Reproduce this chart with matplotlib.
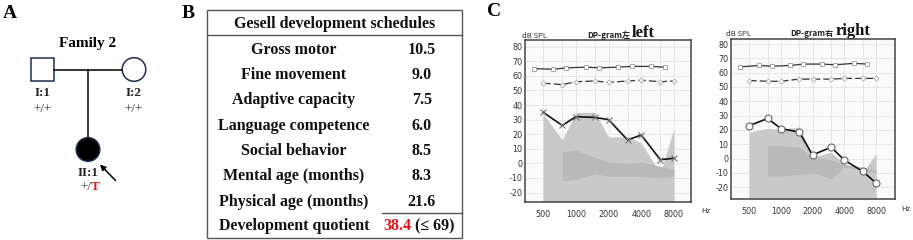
import numpy as np
import matplotlib
matplotlib.use("Agg")
import matplotlib.pyplot as plt
from matplotlib.patches import Rectangle, Circle, FancyArrowPatch
from matplotlib.ticker import FixedLocator, NullFormatter

# ---------------- data ----------------
pedigree_ids = ["I:1", "I:2", "II:1"]
pedigree_gt = ["+/+", "+/+", "+/"]
family_title = "Family 2"

table_title = "Gesell development schedules"
table_labels = ["Gross motor", "Fine movement", "Adaptive capacity",
                "Language competence", "Social behavior",
                "Mental age (months)", "Physical age (months)",
                "Development quotient"]
table_values = ["10.5", "9.0", "7.5", "6.0", "8.5", "8.3", "21.6"]
dq_value = "38.4"
dq_ref = " (\u2264 69)"

freqs = [500, 750, 1000, 1500, 2000, 3000, 4000, 6000, 8000]
xticks = [500, 1000, 2000, 4000, 8000]
yticks = list(range(-20, 81, 10))

left_dp = [35, 26, 32, 31.5, 30, 16, 19.5, 2.5, 3.5]
left_l1 = [65, 64.5, 65.5, 66, 65.5, 66, 66.5, 66.5, 66]
left_l2 = [55, 54, 56, 56.5, 55.5, 56.5, 57, 56, 56.5]
left_noise_hi = [34, 16, 35, 35, 18, 18.5, 14, -7, 24]
left_band_hi = [None, 8, 9, 4, 1, 0, 1, -2, -4]
left_band_lo = [None, -12, -11, -7, -9, -9, -9, -10, -9]

right_dp = [23, 28, 21, 18.5, 2.5, 8, -1, -9, -17]
right_l1 = [64, 65, 64.5, 65, 66, 66, 65.5, 66.5, 66]
right_l2 = [54.5, 54, 54, 55.5, 55.5, 55.5, 56, 56, 56]
right_noise_hi = [18.5, 21, 20.5, 22, 1, 4.5, -3.5, -9.5, 3.5]
right_band_hi = [None, 9, 9, 8, 1, -1, -4, -6, -8]
right_band_lo = [None, -12, -12, -11, -10, -14, -6, -8, -10]

# ---------------- figure ----------------
W, H = 913, 240
fig = plt.figure(figsize=(W / 100, H / 100), dpi=100)
fig.patch.set_facecolor("white")

ov = fig.add_axes([0, 0, 1, 1])
ov.set_xlim(0, W)
ov.set_ylim(H, 0)
ov.axis("off")

SERIF = "Liberation Serif"

# panel letters
for lx, ly, lt in [(3, 14, "A"), (182, 14, "B"), (487, 12, "C")]:
    ov.text(lx, ly, lt, fontsize=14, fontweight="bold", family=SERIF,
            ha="left", va="center")

# ---------------- panel A: pedigree ----------------
ov.text(88, 43, family_title, fontsize=11, fontweight="bold", family=SERIF,
        ha="center", va="center")
ov.plot([54, 122], [69.5, 69.5], color="black", lw=1.1)
ov.plot([88, 88], [69.5, 137.5], color="black", lw=1.1)
ov.add_patch(Rectangle((31, 58), 23, 23, fill=False, ec="#1e2d4d", lw=1.1))
ov.add_patch(Circle((134, 69.5), 11.8, fill=False, ec="#1e2d4d", lw=1.1))
ov.add_patch(Circle((88, 149.5), 11.8, fc="black", ec="#1e2d4d", lw=1.1))

pos = [(42.5, 93.5, 109.5), (134, 93.5, 109.5), (88, 173, 187.5)]
for (px, py1, py2), pid, gt in zip(pos, pedigree_ids, pedigree_gt):
    ov.text(px, py1, pid, fontsize=9.5, fontweight="bold", family=SERIF,
            ha="center", va="center", color="#222222")
    if gt == "+/":
        ov.text(px + 3, py2, gt, fontsize=9.5, family=SERIF,
                ha="right", va="center", color="#333333")
        ov.text(px + 3, py2, "T", fontsize=9.5, family=SERIF, fontweight="bold",
                ha="left", va="center", color="#e8141b")
    else:
        ov.text(px, py2, gt, fontsize=9.5, family=SERIF,
                ha="center", va="center", color="#333333")
ov.add_patch(FancyArrowPatch((115.5, 180.5), (100, 164.5), arrowstyle="-|>",
                             mutation_scale=8, color="black", lw=1.1,
                             shrinkA=0, shrinkB=0))

# ---------------- panel B: table ----------------
ov.add_patch(Rectangle((207, 10), 255, 228, fill=False, ec="#555555", lw=1.0))
ov.plot([207, 462], [35, 35], color="#555555", lw=1.0)
ov.plot([382, 462], [213, 213], color="#555555", lw=1.0)
FS = 11.5
ov.text(334.5, 23.5, table_title, fontsize=FS, fontweight="bold", family=SERIF,
        ha="center", va="center", color="#111111")
row_y = [50, 75, 100, 126, 151, 176, 202, 226]
for i, lab in enumerate(table_labels):
    ov.text(294, row_y[i], lab, fontsize=FS, fontweight="bold", family=SERIF,
            ha="center", va="center", color="#111111")
    if i < len(table_values):
        ov.text(422, row_y[i], table_values[i], fontsize=FS, fontweight="bold",
                family=SERIF, ha="center", va="center", color="#111111")
ov.text(411, row_y[-1], dq_value, fontsize=FS, fontweight="bold", family=SERIF,
        ha="right", va="center", color="#e8141b")
ov.text(411, row_y[-1], dq_ref, fontsize=FS, fontweight="bold", family=SERIF,
        ha="left", va="center", color="#111111")

# ---------------- panel C: DP-grams ----------------
def px_axes(x0, x1, y0, y1):
    return fig.add_axes([x0 / W, (H - y1) / H, (x1 - x0) / W, (y1 - y0) / H])


def dpgram(ax, xlim, ylim, dp, l1, l2, nhi, bhi, blo, marker):
    ax.set_xscale("log")
    ax.set_xlim(*xlim)
    ax.set_ylim(*ylim)
    ax.set_facecolor("#fbfbfb")
    ax.xaxis.set_major_locator(FixedLocator(xticks))
    ax.xaxis.set_minor_locator(FixedLocator([750, 1500, 3000, 6000]))
    ax.xaxis.set_minor_formatter(NullFormatter())
    ax.set_xticks(xticks)
    ax.set_xticklabels([str(v) for v in xticks])
    ax.set_yticks(yticks)
    ax.set_yticklabels([str(v) for v in yticks])
    ax.tick_params(length=0, labelsize=5.8, labelcolor="#333333", pad=2)
    ax.tick_params(axis="x", pad=6)
    ax.tick_params(which="minor", length=0)
    ax.grid(True, which="both", color="#e2e2e2", lw=0.6)
    ax.set_axisbelow(True)
    for s in ax.spines.values():
        s.set_color("#444444")
        s.set_linewidth(1.1)
    f = np.array(freqs, dtype=float)
    ax.fill_between(f, [ylim[0]] * len(f), nhi, color="#c9c9c9", lw=0, zorder=1)
    fb = [fr for fr, b in zip(freqs, bhi) if b is not None]
    bh = [b for b in bhi if b is not None]
    bl = [b for b in blo if b is not None]
    ax.fill_between(fb, bl, bh, color="#b9b9b9", lw=0, zorder=1.5)
    ax.plot(f / 1.22, l1, color="#333333", lw=0.9, marker="s", ms=3.4,
            mfc="white", mec="#999999", mew=0.6, zorder=3)
    ax.plot(f, l2, color="#333333", lw=0.9, dashes=(6, 2.5), marker="D", ms=2.6,
            mfc="white", mec="#aaaaaa", mew=0.6, zorder=3)
    if marker == "x":
        ax.plot(f, dp, color="#111111", lw=1.2, marker="x", ms=5, mec="#777777",
                mew=0.8, zorder=4)
    else:
        ax.plot(f, dp, color="#111111", lw=1.2, marker="o", ms=5, mfc="white",
                mec="#666666", mew=0.8, zorder=4)


axL = px_axes(525, 691, 40, 202)
dpgram(axL, (340, 11500), (-26.5, 84.6), left_dp, left_l1, left_l2,
       left_noise_hi, left_band_hi, left_band_lo, "x")
axR = px_axes(731, 895, 39, 199)
dpgram(axR, (337, 12100), (-28.2, 83.5), right_dp, right_l1, right_l2,
       right_noise_hi, right_band_hi, right_band_lo, "o")

SANS = ["Noto Sans CJK SC", "DejaVu Sans"]
# titles / labels for panel C
for (dbx, dby, tx, ty, word, wx, hzx, hzy) in [
        (522, 36.5, 630, 35, "left", 632, 706, 211),
        (726, 34, 833, 33, "right", 836, 906, 209)]:
    ov.text(dbx, dby, "dB SPL", fontsize=5.5, family=SANS, color="#333333",
            ha="left", va="center")
    ov.text(tx, ty, "DP-gram\u5de6" if word == "left" else "DP-gram\u53f3",
            fontsize=5.8, family=SANS, fontweight="bold", color="#222222",
            ha="right", va="center")
    ov.text(wx, ty - 2, word, fontsize=12, family=SERIF, fontweight="bold",
            color="#111111", ha="left", va="center")
    ov.text(hzx, hzy, "Hz", fontsize=5.5, family=SANS, color="#333333",
            ha="center", va="center")

fig.savefig("out.png", dpi=100, facecolor="white")
